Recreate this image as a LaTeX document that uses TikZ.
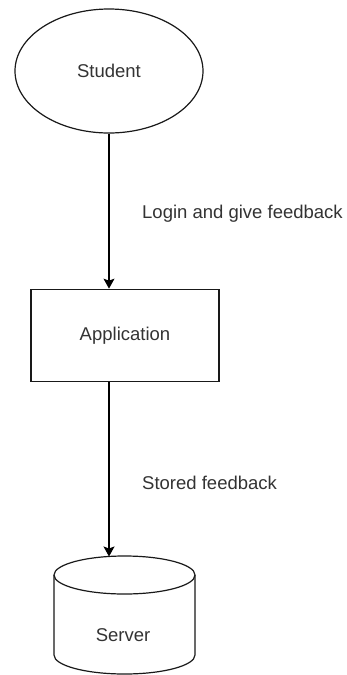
\documentclass[tikz,border=0pt]{standalone}
\usepackage{fontspec}
\setmainfont{Liberation Sans}
\usetikzlibrary{shapes.geometric,arrows.meta}
\begin{document}
\begin{tikzpicture}[x=1pt,y=-1pt,
  every node/.style={font=\fontsize{18.5}{22}\selectfont, text=black!80},
  outline/.style={draw=black!90, line width=1.2pt},
  arr/.style={draw=black, line width=1.2pt, -{Stealth[length=10pt,width=11pt,inset=2pt]}},
  lbl/.style={anchor=west, inner sep=0pt}]
  \useasboundingbox (0,0) rectangle (346,675);

  % actor
  \node[outline, ellipse, minimum width=188pt, minimum height=124pt, inner sep=0pt]
    (student) at (109,71) {Student};

  % process
  \node[outline, rectangle, minimum width=188pt, minimum height=92.5pt, inner sep=0pt]
    (app) at (125,335.5) {Application};

  % database cylinder
  \draw[outline] (124.5,575) ellipse [x radius=70.5pt, y radius=19pt];
  \draw[outline] (54,575) -- (54,655)
    arc[start angle=180, end angle=360, x radius=70.5pt, y radius=19pt] -- (195,575);
  \node (server) at (123,635) {Server};
  \coordinate (srvtop) at (109,556.5);

  % flows
  \draw[arr] (student.south) -- (student.south |- app.north);
  \draw[arr] (app.south -| student.south) -- (srvtop);

  \node[lbl] (l1) at (142,214) {Login and give feedback};
  \node[lbl] (l2) at (142,483) {Stored feedback};
\end{tikzpicture}
\end{document}
